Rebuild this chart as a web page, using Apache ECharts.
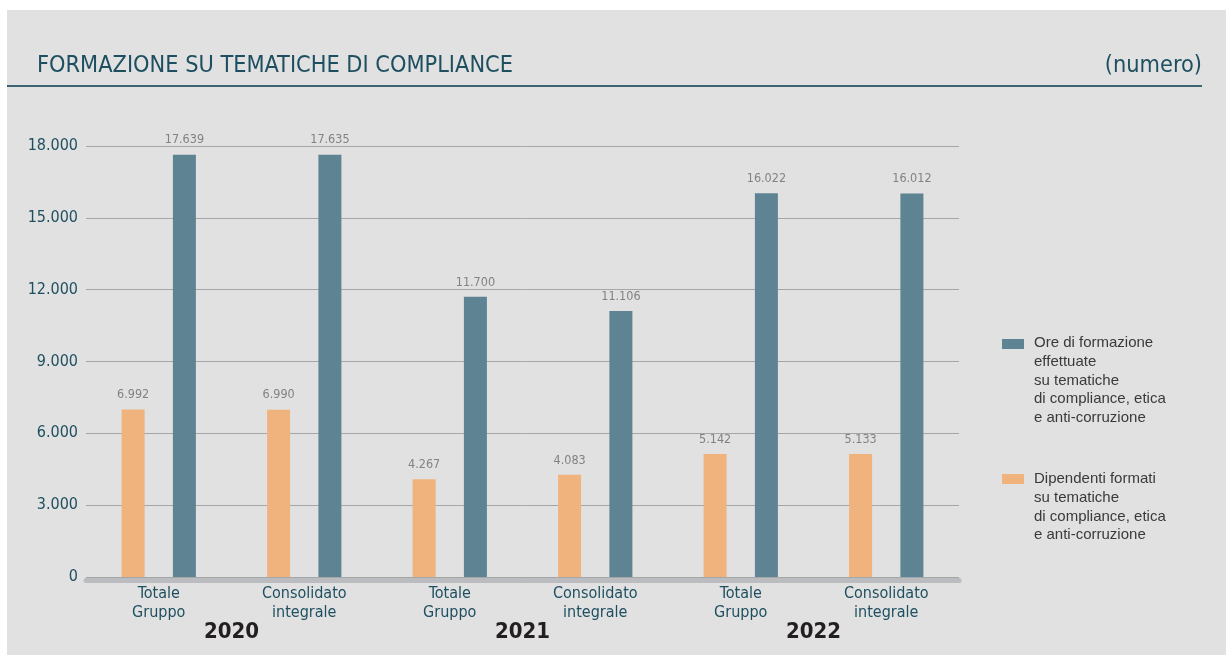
<!DOCTYPE html>
<html><head><meta charset="utf-8">
<script src="https://cdn.jsdelivr.net/npm/echarts@6/dist/echarts.min.js"></script>
<style>
html,body{margin:0;padding:0;background:#fff;}
#bg{position:absolute;left:7px;top:10px;width:1219px;height:645px;background:#e0e1e0;}
#c{position:absolute;left:0;top:0;width:1226px;height:655px;}
</style>
</head><body><div id="bg"></div><div id="c"></div>
<script>
// ---- data ----
const categories = ['Totale\nGruppo','Consolidato\nintegrale','Totale\nGruppo','Consolidato\nintegrale','Totale\nGruppo','Consolidato\nintegrale'];
const years = ['2020','2021','2022'];
const oreFormazione = [17639, 17635, 11700, 11106, 16022, 16012];
const dipendentiFormati = [6992, 6990, 4083, 4267, 5142, 5133];      // bar heights as drawn
const dipendentiLabels = [6992, 6990, 4267, 4083, 5142, 5133];       // printed values
const oreLabels = [17639, 17635, 11700, 11106, 16022, 16012];
const yMin = 0, yMax = 18000, yStep = 3000;
const titleText = 'FORMAZIONE SU TEMATICHE DI COMPLIANCE';
const unitText = '(numero)';
const legendOre = 'Ore di formazione\neffettuate\nsu tematiche\ndi compliance, etica\ne anti-corruzione';
const legendDip = 'Dipendenti formati\nsu tematiche\ndi compliance, etica\ne anti-corruzione';

// ---- styling ----
const TEAL = '#1e4f60';
const BLUE = '#5e8393';
const ORANGE = '#f0b37d';
const COND = '"DejaVu Sans Condensed", "DejaVu Sans", sans-serif';
const fmt = v => String(v).replace(/\B(?=(\d{3})+(?!\d))/g, '.');

const chart = echarts.init(document.getElementById('c'), null, {renderer:'canvas'});
const valLabel = (arr) => ({
  show: true, position: 'top', distance: 8,
  color: '#828282', fontFamily: COND, fontSize: 12.5,
  formatter: p => fmt(arr[p.dataIndex])
});

chart.setOption({
  backgroundColor: 'transparent',
  animation: false,
  title: [
    {text: titleText, left: 37, top: 54, padding: 0,
     textStyle: {color: TEAL, fontFamily: COND, fontSize: 23.3, fontWeight: 'normal'}},
    {text: unitText, right: 24, top: 54, padding: 0,
     textStyle: {color: TEAL, fontFamily: COND, fontSize: 23.3, fontWeight: 'normal'}}
  ],
  grid: {left: 86, right: 267, top: 146, bottom: 78, containLabel: false},
  xAxis: [
    {type: 'category', data: categories, gridIndex: 0, position: 'bottom', offset: 3,
     axisLine: {onZero: false, lineStyle: {color: '#babcbf', width: 5}},
     axisTick: {show: false},
     axisLabel: {color: TEAL, fontFamily: COND, fontSize: 16, lineHeight: 19, margin: 4, interval: 0}},
    {type: 'category', data: years, gridIndex: 0, position: 'bottom', offset: 0,
     axisLine: {show: false, onZero: false}, axisTick: {show: false},
     axisLabel: {color: '#231f20', fontFamily: COND, fontSize: 22, fontWeight: 'bold', margin: 44, interval: 0}}
  ],
  yAxis: {
    type: 'value', min: yMin, max: yMax, interval: yStep,
    axisLine: {show: false}, axisTick: {show: false},
    splitLine: {lineStyle: {color: '#a3a7a8', width: 1}},
    axisLabel: {color: TEAL, fontFamily: COND, fontSize: 16, margin: 8, formatter: v => fmt(v)}
  },
  series: [
    {name: 'Dipendenti formati', type: 'bar', xAxisIndex: 0, data: dipendentiFormati,
     barWidth: 23, barGap: '123%', itemStyle: {color: ORANGE}, label: valLabel(dipendentiLabels)},
    {name: 'Ore di formazione', type: 'bar', xAxisIndex: 0, data: oreFormazione,
     barWidth: 23, barGap: '123%', itemStyle: {color: BLUE}, label: valLabel(oreLabels)}
  ],
  graphic: [
    {type: 'line', silent: true, shape: {x1: 7, y1: 86, x2: 1202, y2: 86},
     style: {stroke: '#3e6474', lineWidth: 2}},
    {type: 'rect', silent: true, shape: {x: 1002, y: 339, width: 22, height: 10}, style: {fill: BLUE}},
    {type: 'text', silent: true, x: 1034, y: 334,
     style: {text: legendOre, fill: '#3a3a3a', font: '15px "Liberation Sans", Arial, sans-serif',
             lineHeight: 18.6, verticalAlign: 'top'}},
    {type: 'rect', silent: true, shape: {x: 1002, y: 474, width: 22, height: 10}, style: {fill: ORANGE}},
    {type: 'text', silent: true, x: 1034, y: 470,
     style: {text: legendDip, fill: '#3a3a3a', font: '15px "Liberation Sans", Arial, sans-serif',
             lineHeight: 18.6, verticalAlign: 'top'}}
  ]
});
</script>
</body></html>
